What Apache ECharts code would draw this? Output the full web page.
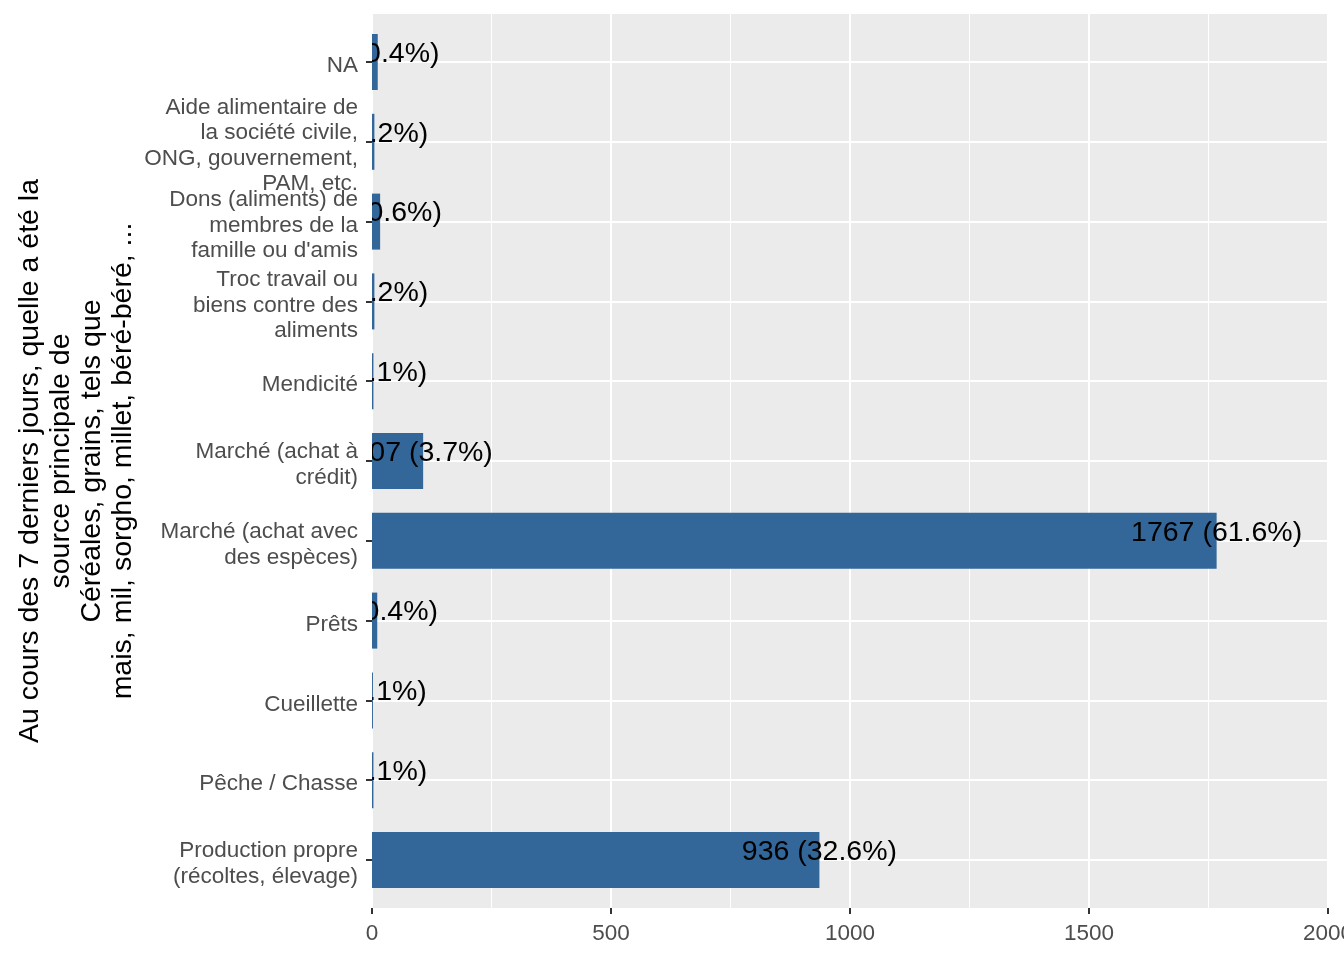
<!DOCTYPE html>
<html><head><meta charset="utf-8">
<script src="https://cdn.jsdelivr.net/npm/echarts@6/dist/echarts.min.js"></script>
<style>html,body{margin:0;padding:0;background:#fff}#c{width:1344px;height:960px}</style>
</head><body><div id="c"></div>
<script>
const categories = [
  "NA",
  "Aide alimentaire de\nla société civile,\nONG, gouvernement,\nPAM, etc.",
  "Dons (aliments) de\nmembres de la\nfamille ou d'amis",
  "Troc travail ou\nbiens contre des\naliments",
  "Mendicité",
  "Marché (achat à\ncrédit)",
  "Marché (achat avec\ndes espèces)",
  "Prêts",
  "Cueillette",
  "Pêche / Chasse",
  "Production propre\n(récoltes, élevage)"
];
const counts = [12, 5, 17, 5, 3, 107, 1767, 11, 2, 3, 936];
const xMin = 0, xMax = 2000, xInterval = 500;
const yTitle = "Au cours des 7 derniers jours, quelle a été la\nsource principale de\nCéréales, grains, tels que\nmais, mil, sorgho, millet, béré-béré, ...";

const total = counts.reduce((a, b) => a + b, 0);
const labels = counts.map(v => v + " (" + (v / total * 100).toFixed(1) + "%)");
const FONT = '"Liberation Sans", Arial, sans-serif';

const chart = echarts.init(document.getElementById('c'), null, {renderer: 'canvas'});
chart.setOption({
  animation: false,
  backgroundColor: '#ffffff',
  grid: [
    {left: 372, top: 14, width: 956, height: 894, show: true, backgroundColor: '#EBEBEB', borderWidth: 0, containLabel: false, outerBoundsMode: 'none'},
    {left: 372, top: 62, width: 956, height: 798, show: false, containLabel: false, outerBoundsMode: 'none'}
  ],
  xAxis: [
    {
      gridIndex: 0, type: 'value', min: xMin, max: xMax, interval: xInterval,
      axisLine: {show: false},
      axisTick: {show: true, length: 6, lineStyle: {color: '#333333', width: 2}},
      axisLabel: {color: '#4D4D4D', fontSize: 22.5, fontFamily: FONT, margin: 14, formatter: v => String(v)},
      splitLine: {show: true, lineStyle: {color: '#ffffff', width: 2}},
      minorTick: {show: false, splitNumber: 2},
      minorSplitLine: {show: true, lineStyle: {color: '#ffffff', width: 1}}
    },
    {gridIndex: 1, type: 'value', min: xMin, max: xMax, show: false}
  ],
  yAxis: [
    {
      gridIndex: 0, type: 'value', min: 0, max: 1,
      axisLine: {show: false}, axisTick: {show: false}, axisLabel: {show: false}, splitLine: {show: false},
      name: yTitle, nameLocation: 'middle', nameRotate: 90, nameGap: 233,
      nameTextStyle: {color: '#000000', fontSize: 28.5, lineHeight: 31, fontFamily: FONT, align: 'center'}
    },
    {
      gridIndex: 1, type: 'category', data: categories, inverse: true, boundaryGap: false,
      axisLine: {show: false},
      axisTick: {show: true, interval: 0, length: 6, lineStyle: {color: '#333333', width: 2}},
      axisLabel: {
        interval: 0, color: '#4D4D4D', fontSize: 22.5, lineHeight: 25.5, fontFamily: FONT, margin: 14, align: 'right',
        formatter: v => '{s| }\n' + v,
        rich: {s: {fontSize: 4, lineHeight: 8}}
      },
      splitLine: {show: true, interval: 0, lineStyle: {color: '#ffffff', width: 2}}
    }
  ],
  series: [
    {
      type: 'bar', xAxisIndex: 1, yAxisIndex: 1, data: counts, barWidth: 56, clip: false,
      itemStyle: {color: '#336699'}, z: 3
    },
    {
      type: 'custom', xAxisIndex: 1, yAxisIndex: 1, z: 5,
      data: counts.map((v, i) => [v, i]),
      encode: {x: 0, y: 1},
      renderItem: function (params, api) {
        const p = api.coord([api.value(0), api.value(1)]);
        const cs = params.coordSys;
        return {
          type: 'text',
          style: {
            x: p[0], y: p[1] - 8, text: labels[params.dataIndex],
            fill: '#000000', fontSize: 28.5, fontFamily: FONT,
            align: 'center', verticalAlign: 'middle'
          },
          clipPath: {type: 'rect', shape: {x: cs.x, y: cs.y - 300, width: cs.width + 300, height: cs.height + 600}}
        };
      }
    }
  ]
});
</script>
</body></html>
